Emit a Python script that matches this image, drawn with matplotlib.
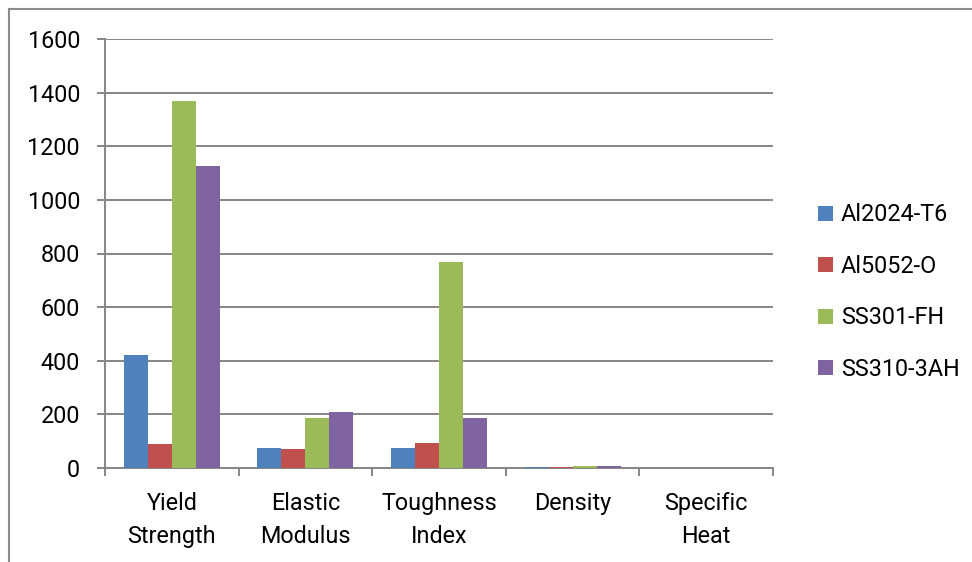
import matplotlib.pyplot as plt
from matplotlib.lines import Line2D
import numpy as np

plt.rcParams['font.family'] = ['Roboto', 'DejaVu Sans']

categories = ['Yield\nStrength', 'Elastic\nModulus', 'Toughness\nIndex', 'Density', 'Specific\nHeat']
series = ['Al2024-T6', 'Al5052-O', 'SS301-FH', 'SS310-3AH']
al2024_t6 = [420, 73, 74, 2.78, 0.88]
al5052_o = [89, 70, 94, 2.68, 0.90]
ss301_fh = [1370, 187, 770, 7.9, 0.50]
ss310_3ah = [1125, 209, 186, 8.0, 0.50]
colors = ['#4F81BD', '#C0504D', '#9BBB59', '#8064A2']
yticks = [0, 200, 400, 600, 800, 1000, 1200, 1400, 1600]

W, H = 972, 562
fs = 16.8
fig = plt.figure(figsize=(W / 100, H / 100), dpi=100)
ax = fig.add_axes([105 / W, 1 - 468 / H, 668 / W, (468 - 39) / H])

grid_c = '#868686'
x = np.arange(len(categories))
bw = 0.18
for i, (name, vals) in enumerate(zip(series, [al2024_t6, al5052_o, ss301_fh, ss310_3ah])):
    ax.bar(x + (i - 1.5) * bw, vals, width=bw, color=colors[i], label=name, zorder=3)

ax.set_xlim(-0.5, len(categories) - 0.5)
ax.set_ylim(0, 1600)
ax.set_yticks(yticks)
ax.set_yticklabels([str(v) for v in yticks], fontsize=fs)
ax.yaxis.grid(True, color=grid_c, linewidth=1.4, zorder=0)
ax.tick_params(axis='y', length=6, width=1.4, color=grid_c, pad=12, labelcolor='black')

# category boundaries get ticks, centres get the labels
ax.set_xticks(np.arange(len(categories) + 1) - 0.5)
ax.set_xticklabels([])
ax.tick_params(axis='x', which='major', length=6, width=1.4, color=grid_c)
ax.set_xticks(x, minor=True)
ax.set_xticklabels(categories, minor=True, fontsize=fs, linespacing=1.55)
ax.tick_params(axis='x', which='minor', length=0, pad=17)

for s in ['top', 'right']:
    ax.spines[s].set_visible(False)
for s in ['left', 'bottom']:
    ax.spines[s].set_color(grid_c)
    ax.spines[s].set_linewidth(1.4)

ax.legend(loc='center left', bbox_to_anchor=(1.036, 0.41), frameon=False, fontsize=fs,
          handlelength=0.62, handleheight=0.62, handletextpad=0.35, labelspacing=1.22)

# outer chart frame
fig.add_artist(Line2D([9 / W, 9 / W], [0, 1 - 9 / H], color='#8c8c8c', linewidth=1.5))
fig.add_artist(Line2D([9 / W, 1], [1 - 9 / H, 1 - 9 / H], color='#8c8c8c', linewidth=1.5))

fig.savefig('out.png', dpi=100)
